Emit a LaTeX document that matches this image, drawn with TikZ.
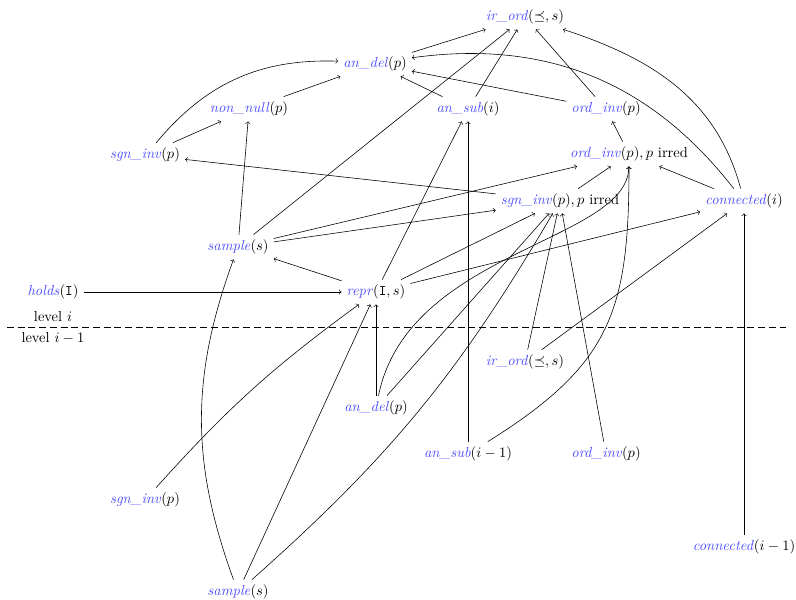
\documentclass[tikz,border=0pt]{standalone}
\definecolor{pblue}{RGB}{77,77,255}
\newcommand\prd[2]{\textcolor{pblue}{\textit{#1}}$(#2)$}
\begin{document}
\begin{tikzpicture}[x=0.6897pt,y=-0.6897pt,
  pn/.style={inner sep=0.3333em},
  edge/.style={->}]
\useasboundingbox (0,0) rectangle (796,599);
% nodes, level i
\node[pn] (irordT) at (525,17) {\prd{ir\_ord}{\preceq, s}};
\node[pn] (andelT) at (375,64) {\prd{an\_del}{p}};
\node[pn] (nonnull) at (249,109) {\prd{non\_null}{p}};
\node[pn] (ansubI) at (468,109) {\prd{an\_sub}{i}};
\node[pn] (ordinvT) at (606,109) {\prd{ord\_inv}{p}};
\node[pn] (sgninvL) at (145,155) {\prd{sgn\_inv}{p}};
\node[pn] (ordirr) at (629,154) {\prd{ord\_inv}{p}$, p$ irred};
\node[pn] (sgnirr) at (560,201) {\prd{sgn\_inv}{p}$, p$ irred};
\node[pn] (connI) at (744,201) {\prd{connected}{i}};
\node[pn] (sampleU) at (238,247) {\prd{sample}{s}};
\node[pn] (holds) at (53,292) {\prd{holds}{\mathtt{I}}};
\node[pn] (repr) at (376,292) {\prd{repr}{\mathtt{I}, s}};
% level labels and separator
\node (lvlI) at (53,317) {level $i$};
\node (lvlIm) at (53,338) {level $i-1$};
\coordinate (sepL) at (7,327);
\coordinate (sepR) at (789,327);
\draw[dash pattern=on 4.8pt off 2.6pt] (sepL) -- (sepR);
% nodes, level i-1
\node[pn] (irordL) at (525,362) {\prd{ir\_ord}{\preceq, s}};
\node[pn] (andelL) at (376,408) {\prd{an\_del}{p}};
\node[pn] (ansubL) at (468,454) {\prd{an\_sub}{i-1}};
\node[pn] (ordinvL) at (606,454) {\prd{ord\_inv}{p}};
\node[pn] (sgninvB) at (145,500) {\prd{sgn\_inv}{p}};
\node[pn] (connL) at (744,547) {\prd{connected}{i-1}};
\node[pn] (sampleB) at (238,592) {\prd{sample}{s}};
% edges
\draw[edge] (andelT) -- (irordT);
\draw[edge] (sampleU) -- (irordT);
\draw[edge] (ansubI) -- (irordT);
\draw[edge] (ordinvT) -- (irordT);
\draw[edge] (connI) to[out=105,in=-18] (irordT);
\draw[edge] (connI) to[bend right=30] (andelT);
\draw[edge] (ordinvT) -- (andelT);
\draw[edge] (ansubI) -- (andelT);
\draw[edge] (nonnull) -- (andelT);
\draw[edge] (sgninvL) to[bend left=26] (andelT);
\draw[edge] (sgninvL) -- (nonnull);
\draw[edge] (sampleU) -- (nonnull);
\draw[edge] (sgnirr) -- (sgninvL);
\draw[edge] (ordirr) -- (ordinvT);
\draw[edge] (connI) -- (ordirr);
\draw[edge] (sgnirr) -- (ordirr);
\draw[edge] (sampleU) -- (ordirr);
\draw[edge] (sampleU) -- (sgnirr);
\draw[edge] (repr) -- (sampleU);
\draw[edge] (holds) -- (repr);
\draw[edge] (repr) -- (ansubI);
\draw[edge] (repr) -- (sgnirr);
\draw[edge] (repr) -- (connI);
\draw[edge] (andelL) -- (repr);
\draw[edge] (andelL) .. controls (408,250) and (628,242) .. (ordirr);
\draw[edge] (andelL) -- (sgnirr);
\draw[edge] (sgninvB) to[bend left=6] (repr);
\draw[edge] (sampleB) -- (repr);
\draw[edge] (sampleB) to[bend left=20] (sampleU);
\draw[edge] (sampleB) to[bend right=9] (sgnirr);
\draw[edge] (irordL) -- (sgnirr);
\draw[edge] (irordL) -- (connI);
\draw[edge] (ordinvL) -- (sgnirr);
\draw[edge] (ansubL) -- (ansubI);
\draw[edge] (ansubL) to[out=32,in=-90,looseness=1.2] (ordirr);
\draw[edge] (connL) -- (connI);
\end{tikzpicture}
\end{document}
